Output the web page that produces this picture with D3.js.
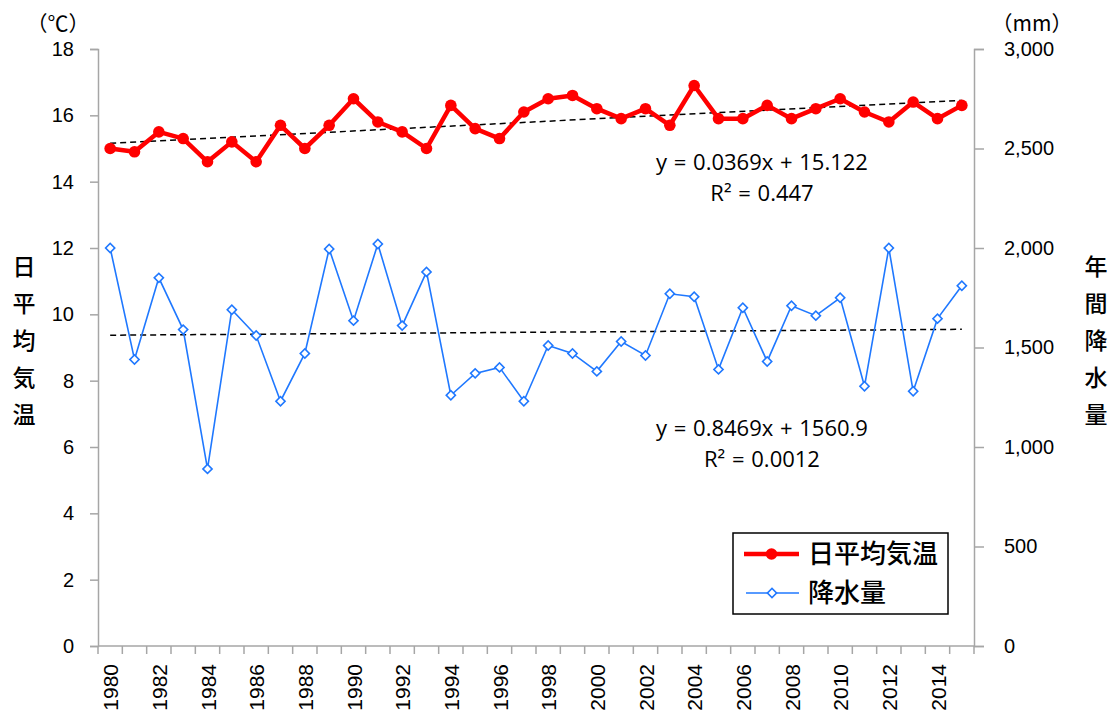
<!DOCTYPE html>
<html>
<head>
<meta charset="utf-8">
<script src="https://cdn.jsdelivr.net/npm/d3@7"></script>
<style>
  body { margin: 0; background: #fff; }
  svg { font-family: "Liberation Sans", Arial, sans-serif; }
  .jp { font-family: "Noto Sans CJK JP", sans-serif; }
</style>
</head>
<body>
<svg class="chart" width="1110" height="715"></svg>
<script>
const years = d3.range(1980, 2016);
const tempValues = [15.0, 14.9, 15.5, 15.3, 14.6, 15.2, 14.6, 15.7, 15.0, 15.7,
  16.5, 15.8, 15.5, 15.0, 16.3, 15.6, 15.3, 16.1, 16.5, 16.6,
  16.2, 15.9, 16.2, 15.7, 16.9, 15.9, 15.9, 16.3, 15.9, 16.2,
  16.5, 16.1, 15.8, 16.4, 15.9, 16.3];
const rainValues = [2000, 1440, 1850, 1590, 890, 1690, 1560, 1230, 1470, 1995,
  1635, 2020, 1610, 1880, 1260, 1370, 1400, 1230, 1510, 1470,
  1380, 1530, 1460, 1770, 1755, 1390, 1700, 1430, 1710, 1660,
  1750, 1305, 2000, 1280, 1645, 1810];
const tempTicks = [0, 2, 4, 6, 8, 10, 12, 14, 16, 18];
const rainTicks = [0, 500, 1000, 1500, 2000, 2500, 3000];
const tempTrend = { slope: 0.0369, intercept: 15.122 };
const rainTrend = { slope: 0.8469, intercept: 1560.9 };
const tempEq = ['y = 0.0369x + 15.122', 'R² = 0.447'];
const rainEq = ['y = 0.8469x + 1560.9', 'R² = 0.0012'];
const seriesNames = ['日平均気温', '降水量'];

const plot = { left: 98, right: 974, top: 49, bottom: 646 };
const axisColor = '#a6a6a6';
const tempColor = '#ff0000';
const rainColor = '#1f78ff';

const svg = d3.select('.chart');

const xScale = d3.scaleBand().domain(years).range([plot.left, plot.right]).padding(0);
const xc = d => xScale(d) + xScale.bandwidth() / 2;
const yTemp = d3.scaleLinear().domain([0, 18]).range([plot.bottom, plot.top]);
const yRain = d3.scaleLinear().domain([0, 3000]).range([plot.bottom, plot.top]);

// left axis
const leftAxis = svg.append('g')
  .attr('transform', `translate(${plot.left},0)`)
  .call(d3.axisLeft(yTemp).tickValues(tempTicks).tickSize(8).tickPadding(16));
leftAxis.selectAll('line, path').attr('stroke', axisColor).attr('stroke-width', 1.5);
leftAxis.selectAll('text').attr('font-size', 20).attr('fill', '#000');

// right axis
const rightAxis = svg.append('g')
  .attr('transform', `translate(${plot.right},0)`)
  .call(d3.axisRight(yRain).tickValues(rainTicks).tickSize(10).tickPadding(20)
    .tickFormat(d3.format(',')));
rightAxis.selectAll('line, path').attr('stroke', axisColor).attr('stroke-width', 1.5);
rightAxis.selectAll('text').attr('font-size', 20).attr('fill', '#000');

// x axis line + boundary ticks
svg.append('line')
  .attr('x1', plot.left).attr('x2', plot.right)
  .attr('y1', plot.bottom).attr('y2', plot.bottom)
  .attr('stroke', axisColor).attr('stroke-width', 1.5);
svg.append('g').selectAll('line')
  .data(years.concat([null]))
  .enter().append('line')
  .attr('x1', (d, i) => plot.left + i * xScale.bandwidth())
  .attr('x2', (d, i) => plot.left + i * xScale.bandwidth())
  .attr('y1', plot.bottom).attr('y2', plot.bottom + 8)
  .attr('stroke', axisColor).attr('stroke-width', 1.5);

// x labels
svg.append('g').selectAll('text')
  .data(years.filter(y => y % 2 === 0))
  .enter().append('text')
  .attr('transform', d => `translate(${xc(d) + 8},${plot.bottom + 18}) rotate(-90)`)
  .attr('text-anchor', 'end')
  .attr('font-size', 21)
  .text(d => d);

// units
svg.append('text').attr('class', 'jp').attr('x', 58).attr('y', 31)
  .attr('text-anchor', 'middle').attr('font-size', 21).text('（℃）');
svg.append('text').attr('class', 'jp').attr('x', 1032).attr('y', 31)
  .attr('text-anchor', 'middle').attr('font-size', 21).text('（mm）');

// vertical axis titles
const vTitle = (str, x) => {
  svg.append('g').selectAll('text')
    .data(str.split(''))
    .enter().append('text')
    .attr('class', 'jp')
    .attr('x', x).attr('y', (d, i) => 275 + i * 37)
    .attr('text-anchor', 'middle').attr('font-size', 23).attr('font-weight', 500)
    .text(d => d);
};
vTitle('日平均気温', 24);
vTitle('年間降水量', 1096);

// trend lines
const trend = (t, yScale) => {
  const n = years.length;
  svg.append('line')
    .attr('x1', xc(years[0])).attr('y1', yScale(t.intercept + t.slope * 1))
    .attr('x2', xc(years[n - 1])).attr('y2', yScale(t.intercept + t.slope * n))
    .attr('stroke', '#000').attr('stroke-width', 1.5).attr('stroke-dasharray', '6,4');
};
trend(tempTrend, yTemp);
trend(rainTrend, yRain);

// rain series
const rainLine = d3.line().x((d, i) => xc(years[i])).y(d => yRain(d));
svg.append('path').datum(rainValues)
  .attr('d', rainLine).attr('fill', 'none')
  .attr('stroke', rainColor).attr('stroke-width', 1.6);
const diamond = d3.symbol().type(d3.symbolSquare).size(42);
svg.append('g').selectAll('path')
  .data(rainValues)
  .enter().append('path')
  .attr('d', diamond)
  .attr('transform', (d, i) => `translate(${xc(years[i])},${yRain(d)}) rotate(45)`)
  .attr('fill', '#fff').attr('stroke', rainColor).attr('stroke-width', 1.6);

// temp series
const tempLine = d3.line().x((d, i) => xc(years[i])).y(d => yTemp(d));
svg.append('path').datum(tempValues)
  .attr('d', tempLine).attr('fill', 'none')
  .attr('stroke', tempColor).attr('stroke-width', 4.5).attr('stroke-linejoin', 'round');
svg.append('g').selectAll('circle')
  .data(tempValues)
  .enter().append('circle')
  .attr('cx', (d, i) => xc(years[i])).attr('cy', d => yTemp(d))
  .attr('r', 5.8).attr('fill', tempColor);

// equations
const eq = (lines, x, y) => {
  svg.append('g').selectAll('text')
    .data(lines)
    .enter().append('text')
    .attr('x', x).attr('y', (d, i) => y + i * 31)
    .attr('text-anchor', 'middle').attr('font-size', 22)
    .attr('word-spacing', 1)
    .attr('font-family', '"Open Sans", sans-serif')
    .text(d => d);
};
eq(tempEq, 762, 170);
eq(rainEq, 762, 436);

// legend
const lg = svg.append('g').attr('transform', 'translate(733,533)');
lg.append('rect').attr('width', 215).attr('height', 81)
  .attr('fill', '#fff').attr('stroke', '#000').attr('stroke-width', 1.5);
lg.append('line').attr('x1', 11).attr('x2', 66).attr('y1', 21).attr('y2', 21)
  .attr('stroke', tempColor).attr('stroke-width', 4.5);
lg.append('circle').attr('cx', 38.5).attr('cy', 21).attr('r', 5.8).attr('fill', tempColor);
lg.append('line').attr('x1', 13).attr('x2', 66).attr('y1', 60).attr('y2', 60)
  .attr('stroke', rainColor).attr('stroke-width', 1.6);
lg.append('path').attr('d', diamond)
  .attr('transform', 'translate(39,60) rotate(45)')
  .attr('fill', '#fff').attr('stroke', rainColor).attr('stroke-width', 1.6);
lg.selectAll('text.lbl')
  .data(seriesNames)
  .enter().append('text')
  .attr('class', 'jp lbl')
  .attr('x', 75).attr('y', (d, i) => 30 + i * 39)
  .attr('font-size', 26).attr('font-weight', 500)
  .text(d => d);
</script>
</body>
</html>
